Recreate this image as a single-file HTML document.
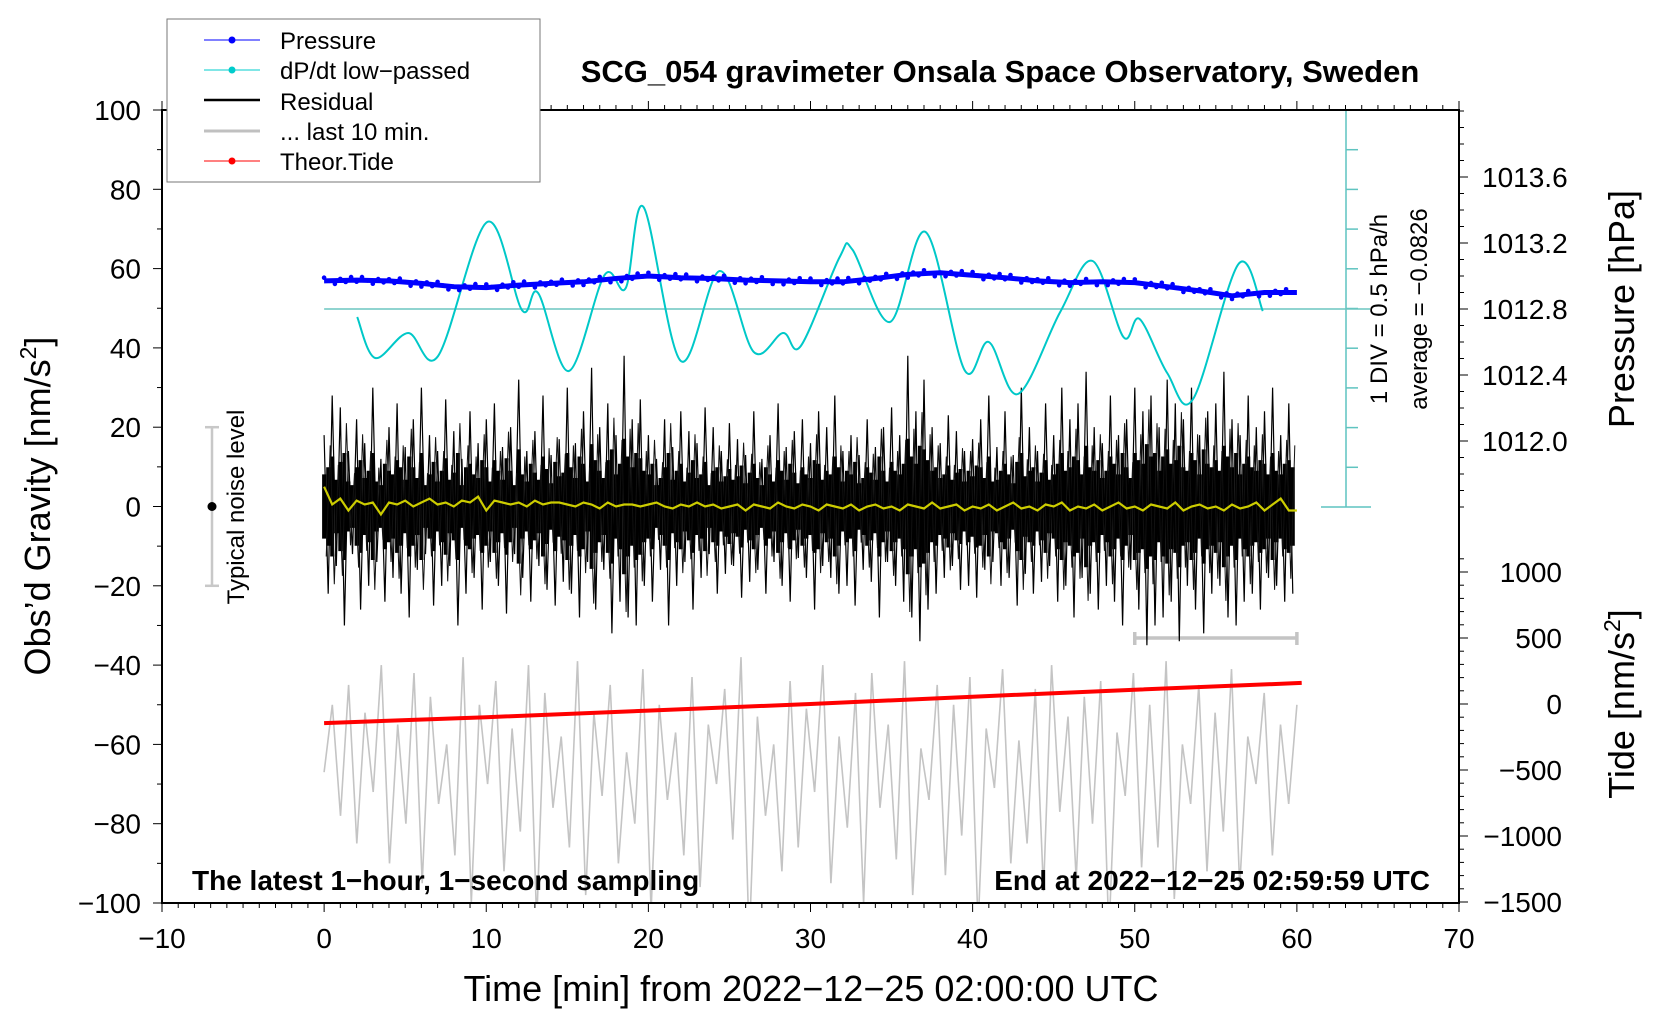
<!DOCTYPE html>
<html><head><meta charset="utf-8"><style>
html,body{margin:0;padding:0;background:#fff;}
svg{display:block;font-family:"Liberation Sans",sans-serif;}
</style></head><body>
<svg id="chart" width="1660" height="1020" viewBox="0 0 1660 1020" xmlns="http://www.w3.org/2000/svg">
<defs><clipPath id="plotclip"><rect x="162" y="110" width="1297" height="793"/></clipPath></defs>
<g id="marks"></g>
<g id="axes"></g>
<text x="1000" y="82" text-anchor="middle" font-size="31" font-weight="bold">SCG_054 gravimeter Onsala Space Observatory, Sweden</text>
<text x="192" y="890" font-size="28" font-weight="bold">The latest 1−hour, 1−second sampling</text>
<text x="1430" y="890" text-anchor="end" font-size="28" font-weight="bold">End at 2022−12−25 02:59:59 UTC</text>
<text transform="translate(50,506) rotate(-90)" text-anchor="middle" font-size="36">Obs’d Gravity [nm/s<tspan font-size="23" dy="-14">2</tspan><tspan dy="14">]</tspan></text>
<text x="811" y="1001" text-anchor="middle" font-size="36">Time [min] from 2022−12−25 02:00:00 UTC</text>
<text transform="translate(1634,309) rotate(-90)" text-anchor="middle" font-size="36">Pressure [hPa]</text>
<text transform="translate(1634,704) rotate(-90)" text-anchor="middle" font-size="36">Tide [nm/s<tspan font-size="23" dy="-14">2</tspan><tspan dy="14">]</tspan></text>
<text transform="translate(1387,309) rotate(-90)" text-anchor="middle" font-size="24">1 DIV = 0.5 hPa/h</text>
<text transform="translate(1427,309) rotate(-90)" text-anchor="middle" font-size="24">average = −0.0826</text>
<text transform="translate(244,507) rotate(-90)" text-anchor="middle" font-size="24">Typical noise level</text>
<g>
<rect x="167" y="19" width="373" height="163" fill="#fff" stroke="#777" stroke-width="1"/>
<g><line x1="204" y1="40" x2="260" y2="40" stroke="#0000ff" stroke-width="1"/><circle cx="232" cy="40" r="3.5" fill="#0000ff"/><text x="280" y="49" font-size="24">Pressure</text></g>
<g><line x1="204" y1="70" x2="260" y2="70" stroke="#00cccc" stroke-width="1"/><circle cx="232" cy="70" r="3.5" fill="#00cccc"/><text x="280" y="79" font-size="24">dP/dt low−passed</text></g>
<g><line x1="204" y1="100" x2="260" y2="100" stroke="#000" stroke-width="2.5"/><text x="280" y="110" font-size="24">Residual</text></g>
<g><line x1="204" y1="131" x2="260" y2="131" stroke="#c0c0c0" stroke-width="3"/><text x="280" y="140" font-size="24">... last 10 min.</text></g>
<g><line x1="204" y1="161" x2="260" y2="161" stroke="#ff0000" stroke-width="1"/><circle cx="232" cy="161" r="3.5" fill="#ff0000"/><text x="280" y="170" font-size="24">Theor.Tide</text></g>
</g>
</svg>
<script>
// ---- data ----
const pressTimes = [0,2,4,6,8,10,12,14,16,18,20,22,24,26,28,30,32,34,36,38,40,42,44,46,48,50,52,54,56,58,60];
const pressVals = [1012.97,1012.975,1012.97,1012.955,1012.935,1012.93,1012.945,1012.955,1012.965,1012.985,1013.0,1012.99,1012.985,1012.975,1012.97,1012.965,1012.965,1012.985,1013.01,1013.02,1013.005,1012.99,1012.97,1012.96,1012.965,1012.96,1012.935,1012.91,1012.88,1012.9,1012.9];
const dpTimes = [2.04,3.15,5.18,7.03,10.06,12.2,13.2,15.1,17.3,18.6,19.7,22.0,24.4,26.5,28.3,29.4,31.8,32.6,34.9,37.1,39.5,41.0,42.8,45.4,47.4,49.3,50.3,52.0,53.6,56.4,57.9];
const dpVals = [-0.183,-0.70,-0.385,-0.674,1.013,-0.095,0.119,-0.863,0.346,0.18,1.202,-0.737,0.396,-0.624,-0.385,-0.548,0.572,0.66,-0.246,0.887,-0.851,-0.498,-1.153,-0.12,0.522,-0.435,-0.209,-0.889,-1.216,0.484,-0.108];
const tideTimes = [0,10,20,30,40,50,60.3];
const tideVals = [-145,-100,-50,0,55,108,160];
const residual = [
18,-22,28,-15,25,-30,14,-12,22,-26,16,-20,30,-14,12,-24,20,-18,26,-22,
15,-28,22,-16,30,-12,18,-25,14,-20,27,-15,19,-30,12,-22,24,-18,16,-26,
22,-14,26,-20,15,-27,20,-12,32,-18,14,-24,19,-15,28,-21,13,-25,17,-19,
30,-22,16,-28,24,-14,35,-26,20,-16,26,-32,18,-24,38,-28,22,-30,27,-20,
18,-24,12,-16,22,-30,15,-20,24,-14,19,-26,16,-18,25,-12,20,-22,14,-17,
21,-15,17,-23,13,-19,24,-16,12,-22,18,-14,26,-20,15,-24,19,-13,22,-18,
16,-26,24,-15,20,-18,28,-22,14,-20,18,-25,13,-16,22,-19,15,-28,20,-14,
25,-20,18,-24,38,-28,24,-34,32,-26,20,-22,16,-18,23,-15,19,-21,14,-20,
17,-23,22,-16,28,-14,15,-20,24,-18,13,-25,30,-17,20,-22,14,-19,26,-15,
18,-24,30,-20,22,-28,26,-18,34,-22,20,-26,16,-20,28,-24,18,-30,22,-16,
30,-26,24,-35,28,-30,20,-28,32,-24,26,-34,22,-20,30,-26,18,-32,24,-22,
26,-20,34,-28,22,-30,18,-24,28,-22,20,-26,24,-18,30,-20,18,-24,26,-22];
const last10 = [
-67,-50,-78,-45,-85,-52,-72,-40,-90,-55,-80,-42,-95,-48,-75,-60,-88,-38,-100,-50,
-70,-44,-92,-56,-82,-40,-105,-47,-76,-58,-86,-39,-98,-52,-73,-45,-90,-62,-80,-41,
-102,-50,-74,-57,-88,-43,-96,-55,-70,-46,-84,-38,-110,-53,-78,-60,-92,-44,-86,-51,
-72,-40,-95,-58,-81,-47,-100,-42,-76,-55,-89,-39,-98,-61,-74,-45,-93,-50,-83,-43,
-106,-56,-71,-41,-90,-59,-85,-46,-97,-40,-77,-53,-94,-48,-80,-44,-108,-57,-73,-42,
-91,-50,-86,-39,-99,-60,-75,-45,-92,-52,-82,-41,-96,-58,-70,-47,-88,-55,-75,-50];
const smoothed = [
5,0.5,2,-1,1.5,0.5,1,-2,1,0.5,1.5,0,1,2,0.5,1,0,1.5,1,2.5,
-1,1.5,1,0.5,1,0,1.5,0.5,1,1,0.5,0,1,0.5,-0.5,1,0,0.5,0.5,0,
0.5,1,0,-0.5,0.5,0,1,0,0.5,-0.5,0,0.5,-1,0.5,0,-0.5,1,0,-0.5,0.5,
0,-1,0.5,0,-0.5,0.5,-1,0,0.5,-0.5,0,-1,0.5,0,-0.5,1,-0.5,0,0.5,-1,
0,-0.5,0.5,-1,0,1,-0.5,0,-1,0.5,0,1,-1,0,-0.5,0.5,-1,0,1,-0.5,
0,-1,0.5,0,-0.5,1,-1,0,0.5,-0.5,0,-1,0.5,-0.5,0,1,-1,0.5,2,-1,-1];
const xTicks = [-10,0,10,20,30,40,50,60,70];
const yTicks = [100,80,60,40,20,0,-20,-40,-60,-80,-100];
const pTicks = ["1013.6","1013.2","1012.8","1012.4","1012.0"];
const tTicks = [1000,500,0,-500,-1000,-1500];

// ---- axis functions ----
const L=162,R=1459,T=110,B=903;
const X = t => L + (t+10)*(R-L)/80;
const YL = v => T + (100-v)*(B-T)/200;
const YP = p => 177 + (1013.6-p)*165;
const YT = v => 704 - v*66/500;
const YD = d => 309 - (d+0.0826)/0.5*39.7;

const NS="http://www.w3.org/2000/svg";
const marks=document.getElementById('marks'), axes=document.getElementById('axes');
function mk(tag, attrs, parent){const e=document.createElementNS(NS,tag);for(const k in attrs)e.setAttribute(k,attrs[k]);(parent||marks).appendChild(e);return e;}

// cyan reference scale
let g=mk('g',{});


mk('line',{x1:1346,y1:110,x2:1346,y2:507,stroke:'#5fc4c0','stroke-width':1.5},g);
for(let i=0;i<=10;i++){const y=110+i*39.7;const w=(i===0||i===10)?25:12;mk('line',{x1:1346-(i===0||i===10?25:0),y1:y,x2:1346+w,y2:y,stroke:'#5fc4c0','stroke-width':1.5},g);}
let zl=mk('line',{x1:X(0),y1:YD(-0.0826),x2:1370,y2:YD(-0.0826),stroke:'#6cc6c0','stroke-width':1.5});



// noise level bar
let nb=mk('g',{});


mk('line',{x1:212,y1:YL(20),x2:212,y2:YL(-20),stroke:'#c8c8c8','stroke-width':2.5},nb);
mk('line',{x1:205,y1:YL(20),x2:219,y2:YL(20),stroke:'#c8c8c8','stroke-width':2.5},nb);
mk('line',{x1:205,y1:YL(-20),x2:219,y2:YL(-20),stroke:'#c8c8c8','stroke-width':2.5},nb);
mk('circle',{cx:212,cy:YL(0),r:4.5,fill:'#000'},nb);

// last 10 min gray
let gp=[];last10.forEach((v,i)=>gp.push(X(i*60/(last10.length-1)).toFixed(1)+','+YL(v).toFixed(1)));
let gl=mk('polyline',{points:gp.join(' '),fill:'none',stroke:'#c4c4c4','stroke-width':1.6,'clip-path':'url(#plotclip)'});


// gray time bar
let tb=mk('g',{});


mk('line',{x1:X(50),y1:638,x2:X(60),y2:638,stroke:'#c4c4c4','stroke-width':3.5},tb);
mk('line',{x1:X(50),y1:632,x2:X(50),y2:645,stroke:'#c4c4c4','stroke-width':3.5},tb);
mk('line',{x1:X(60),y1:632,x2:X(60),y2:645,stroke:'#c4c4c4','stroke-width':3.5},tb);

// tide
let tp=tideVals.map((v,i)=>X(tideTimes[i]).toFixed(1)+','+YT(v).toFixed(1));
let tl=mk('polyline',{points:tp.join(' '),fill:'none',stroke:'#ff0000','stroke-width':4});



// residual
let rg=mk('g',{});


const step=60/residual.length;
let core='';
residual.forEach((v,i)=>{const x=X(i*step);const a=Math.abs(v)*0.45;core+=`M${x.toFixed(1)},${YL(a).toFixed(1)}V${YL(-a).toFixed(1)}`;});
mk('path',{d:core,stroke:'#000','stroke-width':4,fill:'none'},rg);
let rp=residual.map((v,i)=>X(i*step).toFixed(1)+','+YL(v).toFixed(1));
mk('polyline',{points:rp.join(' '),fill:'none',stroke:'#000','stroke-width':1.2},rg);
let rp2=residual.map((v,i)=>X(i*step+step/2).toFixed(1)+','+YL(-v*0.7).toFixed(1));
mk('polyline',{points:rp2.join(' '),fill:'none',stroke:'#111','stroke-width':1},rg);

// smoothed yellow
let yp=smoothed.map((v,i)=>X(i*60/(smoothed.length-1)).toFixed(1)+','+YL(v).toFixed(1));
let yl=mk('polyline',{points:yp.join(' '),fill:'none',stroke:'#cccc00','stroke-width':2.2});



// dp/dt cyan via Catmull-Rom
const cp=dpVals.map((v,i)=>[X(dpTimes[i]),YD(v)]);
let d=`M${cp[0][0]},${cp[0][1]}`;
for(let i=0;i<cp.length-1;i++){const p0=cp[Math.max(0,i-1)],p1=cp[i],p2=cp[i+1],p3=cp[Math.min(cp.length-1,i+2)];
d+=`C${(p1[0]+(p2[0]-p0[0])/6).toFixed(1)},${(p1[1]+(p2[1]-p0[1])/6).toFixed(1)} ${(p2[0]-(p3[0]-p1[0])/6).toFixed(1)},${(p2[1]-(p3[1]-p1[1])/6).toFixed(1)} ${p2[0].toFixed(1)},${p2[1].toFixed(1)}`;}
let cl=mk('path',{d:d,fill:'none',stroke:'#00c8c8','stroke-width':2});



// pressure
let pp=pressVals.map((v,i)=>X(pressTimes[i]).toFixed(1)+','+YP(v).toFixed(1));
let pl=mk('polyline',{points:pp.join(' '),fill:'none',stroke:'#0000ff','stroke-width':5,'stroke-linejoin':'round'});


pressVals.forEach((v,i)=>{if(i<pressVals.length-1){for(let k=0;k<6;k++){const t=pressTimes[i]+k*(pressTimes[i+1]-pressTimes[i])/6;const vv=v+(pressVals[i+1]-v)*k/6;mk('circle',{cx:X(t).toFixed(1),cy:(YP(vv)+((k*7+i*3)%5-2)*1.6).toFixed(1),r:2.3,fill:'#0000ff'});}}});

// ---- axes ----
let frame=mk('rect',{x:L,y:T,width:R-L,height:B-T,fill:'none',stroke:'#000','stroke-width':2},axes);


for(let t=-10;t<=70;t++){const x=X(t),maj=t%10===0;
mk('line',{x1:x,y1:B,x2:x,y2:B+(maj?9:5),stroke:'#000','stroke-width':1},axes);
mk('line',{x1:x,y1:T,x2:x,y2:T-(maj?9:5),stroke:'#000','stroke-width':1},axes);}
xTicks.forEach(t=>{const e=mk('text',{x:X(t),y:948,'text-anchor':'middle','font-size':28},axes);e.textContent=(t<0?'−':'')+Math.abs(t);

});
for(let v=-100;v<=100;v+=10){const y=YL(v),maj=v%20===0;mk('line',{x1:L,y1:y,x2:L-(maj?9:5),y2:y,stroke:'#000','stroke-width':1},axes);}
yTicks.forEach(v=>{const e=mk('text',{x:141,y:YL(v)+10,'text-anchor':'end','font-size':28},axes);e.textContent=(v<0?'−':'')+Math.abs(v);

});
for(let k=0;k<=24;k++){const p=1014.0-k*0.1;const y=YP(p);const maj=[4,8,12,16,20].includes(k);mk('line',{x1:R,y1:y,x2:R+(maj?9:5),y2:y,stroke:'#000','stroke-width':1},axes);}
pTicks.forEach(s=>{const e=mk('text',{x:1482,y:YP(parseFloat(s))+10,'font-size':28},axes);e.textContent=s;

});
for(let v=-1500;v<=1100;v+=100){const y=YT(v);const maj=v%500===0;mk('line',{x1:R,y1:y,x2:R+(maj?9:5),y2:y,stroke:'#000','stroke-width':1},axes);}
tTicks.forEach(v=>{const e=mk('text',{x:1562,y:YT(v)+10,'text-anchor':'end','font-size':28},axes);e.textContent=(v<0?'−':'')+Math.abs(v);

});
</script>
</body></html>
